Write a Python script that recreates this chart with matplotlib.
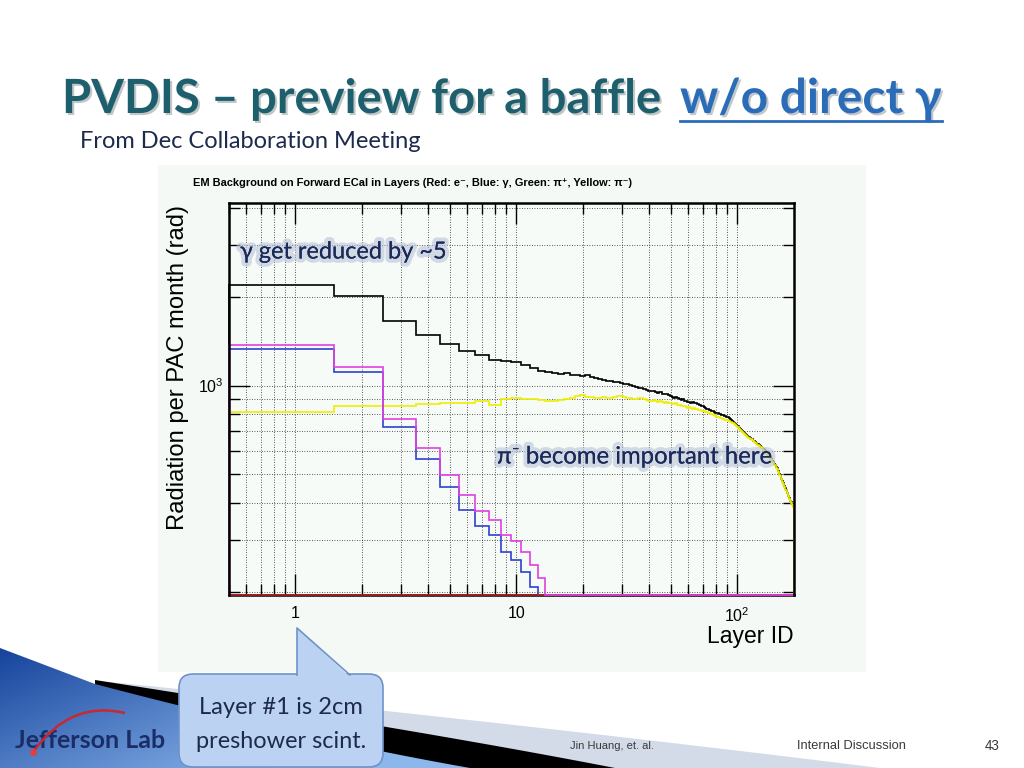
import numpy as np
import matplotlib
matplotlib.use("Agg")
import matplotlib.pyplot as plt
import matplotlib.patheffects as pe
from matplotlib.patches import Polygon, FancyBboxPatch, Rectangle, PathPatch
from matplotlib.path import Path
from matplotlib.ticker import FixedLocator, LogLocator, NullFormatter, FuncFormatter

plt.rcParams['mathtext.default'] = 'regular'

# layer bins (layer 1 .. 180)
layer_edges = np.arange(0.5, 181.0, 1.0)

# black: all
total = [2200, 2020, 1650, 1490, 1380, 1315, 1265, 1225, 1215, 1205,
         1170, 1145, 1125, 1115, 1105, 1098, 1100, 1085, 1090, 1080,
         1088, 1068, 1060, 1052, 1045, 1040, 1035, 1028, 1030, 1018,
         1015, 1010, 1002, 1000, 990, 985, 980, 975, 968, 958,
         955, 958, 950, 946, 950, 940, 935, 938, 928, 922,
         915, 910, 916, 905, 900, 896, 898, 890, 885, 882,
         880, 876, 882, 872, 870, 868, 866, 862, 855, 850,
         845, 838, 836, 832, 828, 825, 822, 818, 815, 810,
         808, 806, 803, 800, 798, 795, 792, 790, 787, 784,
         780, 776, 770, 765, 760, 754, 748, 742, 737, 732,
         727, 722, 717, 712, 707, 702, 697, 692, 687, 680,
         676, 673, 670, 667, 664, 661, 658, 655, 651, 647,
         644, 641, 638, 635, 632, 629, 626, 623, 620, 616,
         612, 608, 604, 600, 596, 592, 588, 584, 580, 576,
         572, 568, 564, 560, 555, 551, 547, 543, 539, 535,
         530, 525, 520, 514, 508, 502, 496, 490, 484, 478,
         473, 468, 463, 458, 453, 448, 443, 438, 433, 428,
         423, 419, 415, 411, 407, 403, 400, 397, 394, 391]

# yellow: pi-
pi_minus = [816, 850, 855, 866, 870, 872, 888, 858, 900, 905,
            898, 900, 895, 888, 890, 893, 898, 905, 920, 928,
            918, 912, 910, 908, 912, 905, 908, 915, 925, 922,
            912, 905, 905, 902, 900, 905, 910, 900, 895, 890,
            888, 892, 885, 880, 886, 878, 875, 880, 872, 870,
            869, 866, 870, 862, 860, 856, 852, 850, 846, 842,
            845, 840, 836, 838, 832, 830, 828, 825, 822, 820,
            818, 815, 816, 810, 806, 802, 800, 796, 792, 788,
            785, 782, 780, 778, 775, 772, 770, 766, 764, 762,
            760, 758, 755, 752, 748, 744, 740, 735, 730, 726,
            722, 718, 712, 708, 702, 698, 692, 688, 682, 676,
            672, 670, 666, 664, 660, 657, 654, 651, 648, 644,
            641, 637, 635, 631, 629, 625, 623, 619, 617, 612,
            609, 604, 601, 596, 593, 588, 585, 580, 577, 572,
            569, 564, 561, 556, 552, 547, 544, 539, 536, 531,
            527, 521, 518, 510, 506, 498, 494, 486, 482, 474,
            471, 464, 461, 454, 451, 444, 441, 434, 431, 424,
            421, 415, 413, 407, 405, 399, 398, 393, 392, 387]

# blue: gamma
gamma = [1335, 1113, 724, 566, 454, 380, 333, 311, 272, 257, 233, 208] + [0] * 168
# magenta
pi_plus = [1370, 1157, 773, 612, 496, 427, 377, 351, 311, 298, 272, 246, 223] + [0] * 167
# red: e-
electron = [0] * 180

y_lo, y_hi = 195, 4160

fig = plt.figure(figsize=(10.24, 7.68), dpi=100)
fig.patch.set_facecolor('white')
R = fig.canvas.get_renderer()


def fit(t, size, vertical=False):
    bb = t.get_window_extent(R)
    cur = bb.height if vertical else bb.width
    t.set_fontsize(t.get_fontsize() * size / cur)
    return t


def bezier(p0, p1, p2, n=40):
    t = np.linspace(0, 1, n)[:, None]
    return (1 - t) ** 2 * np.array(p0) + 2 * t * (1 - t) * np.array(p1) + t ** 2 * np.array(p2)


# background layer in pixel coords
bg = fig.add_axes([0, 0, 1, 1], zorder=0)
bg.axis('off')

bg.add_patch(Rectangle((158, 165), 708, 507, facecolor='#f4f9f5', edgecolor='none', zorder=1))

# bottom-left swoosh
light_top = bezier((110, 682), (560, 728), (880, 768))
bg.add_patch(Polygon(np.vstack([light_top, [(110, 768)]]), closed=True,
                     facecolor='#d3dbe8', edgecolor='none', zorder=2))
black_top = bezier((95, 680), (430, 732), (615, 768))
bg.add_patch(Polygon(np.vstack([black_top, [(95, 768)]]), closed=True,
                     facecolor='black', edgecolor='none', zorder=3))
blue_top = bezier((95, 684), (300, 738), (470, 768))
blue_shape = Polygon(np.vstack([[(0, 648)], blue_top, [(0, 768)]]), closed=True,
                     facecolor='none', edgecolor='none')
bg.add_patch(blue_shape)
gy = np.linspace(0, 1, 128)[:, None]
gx = np.linspace(0, 1, 480)[None, :]
mix = np.clip(0.8 * gx + 0.5 * gy, 0, 1)[..., None]
dark = np.array([0.07, 0.25, 0.60])
light = np.array([0.55, 0.72, 0.93])
img = dark * (1 - mix) + light * mix
im = bg.imshow(img, extent=(0, 480, 768, 640), aspect='auto', zorder=4)
im.set_clip_path(blue_shape)

# Jefferson Lab logo
logo = bg.text(15, 740, 'Jefferson Lab', fontsize=20, fontweight='bold',
               family=['Lato', 'DejaVu Sans'], color='#1b2d66', va='center', zorder=6)
fit(logo, 150)
arc = Path([(33, 752), (70, 700), (125, 713)], [Path.MOVETO, Path.CURVE3, Path.CURVE3])
bg.add_patch(PathPatch(arc, facecolor='none', edgecolor='#c8282e', lw=1.8, zorder=7))
bg.plot([33], [752], 'o', color='#e04040', ms=4, zorder=8)

# title
shadow = [pe.SimplePatchShadow(offset=(1.5, -1.5), alpha=0.25), pe.Normal()]
t1 = bg.text(62, 113, 'PVDIS \u2013 preview for a baffle', fontsize=34, fontweight='bold',
             family=['Lato', 'DejaVu Sans'], color='#1e5f6e', va='baseline', zorder=6,
             path_effects=shadow)
fit(t1, 600)
t2 = bg.text(680, 113, 'w/o direct \u03b3', fontsize=34, fontweight='bold',
             family=['Lato', 'DejaVu Sans'], color='#2b6cb8', va='baseline', zorder=6,
             path_effects=shadow)
fit(t2, 262)
bg.plot([680, 942], [121, 121], color='#2b6cb8', lw=2, zorder=6)

sub = bg.text(80, 141, 'From Dec Collaboration Meeting', fontsize=15,
              family=['Lato', 'DejaVu Sans'], color='#1c2a4c', va='center', zorder=6)
fit(sub, 342)

# histogram title
ht = bg.text(193, 183, 'EM Background on Forward ECal in Layers (Red: e\u207b, Blue: \u03b3, '
             'Green: \u03c0\u207a, Yellow: \u03c0\u207b)', fontsize=8, fontweight='bold',
             family=['Liberation Sans', 'DejaVu Sans'], color='black', va='center', zorder=6)
fit(ht, 440)

yl = bg.text(178, 367, 'Radiation per PAC month (rad)', fontsize=17, rotation=90,
             family=['Liberation Sans', 'DejaVu Sans'], ha='center', va='center', zorder=6)
fit(yl, 325, vertical=True)
xl = bg.text(794, 637, 'Layer ID', fontsize=16.5, family=['Liberation Sans', 'DejaVu Sans'],
             ha='right', va='center', zorder=6)

# footer
for txt, x0, w in [('Jin Huang, et. al.', 570, 84), ('Internal Discussion', 797, 110), ('43', 985, 15)]:
    f = bg.text(x0, 746, txt, fontsize=9, family=['Liberation Sans', 'DejaVu Sans'],
                color='#3a3a3a', va='center', zorder=6)
    fit(f, w)

bg.set_xlim(0, 1024)
bg.set_ylim(768, 0)

# main plot
ax = fig.add_axes([229 / 1024, 1 - 595 / 768, 565 / 1024, 392 / 768], zorder=2)
ax.set_facecolor('#f7fbf8')
ax.set_xscale('log')
ax.set_yscale('log')

series = [(total, 'black'), (pi_minus, '#eeee00'), (gamma, '#3040d0'),
          (electron, '#b02020'), (pi_plus, '#e040e0')]
for vals, col in series:
    v = np.clip(np.array(vals, dtype=float), y_lo, None)
    ax.stairs(v, layer_edges, baseline=y_lo, color=col, lw=1.2, zorder=3, clip_on=False)

ax.set_xlim(0.5, 181)
ax.set_ylim(y_lo, y_hi)

ax.xaxis.set_major_locator(FixedLocator([1, 10, 100]))
ax.xaxis.set_minor_locator(LogLocator(base=10, subs=np.arange(2, 10)))
ax.yaxis.set_major_locator(FixedLocator([1000]))
ax.yaxis.set_minor_locator(LogLocator(base=10, subs=np.arange(2, 10)))
xlab = {1: '1', 10: '10', 100: '$10^{2}$'}
ax.xaxis.set_major_formatter(FuncFormatter(lambda v, p: xlab.get(int(round(v)), '')))
ax.yaxis.set_major_formatter(FuncFormatter(lambda v, p: '$10^{3}$'))
ax.xaxis.set_minor_formatter(NullFormatter())
ax.yaxis.set_minor_formatter(NullFormatter())
ax.tick_params(which='both', direction='in', top=True, right=True, width=1.0,
               labelsize=11.5, labelfontfamily='Liberation Sans')
ax.tick_params(which='major', length=15)
ax.tick_params(which='minor', length=8)
ax.tick_params(axis='x', pad=8)
ax.tick_params(axis='y', pad=4)
ax.grid(which='both', linestyle=(0, (1, 2)), color='black', lw=0.6, alpha=0.85)
for side in ['left', 'right', 'top']:
    ax.spines[side].set_zorder(4)
for s in ax.spines.values():
    s.set_linewidth(1.8)
ax.spines['bottom'].set_zorder(2)

# overlay: annotations and callout
ov = fig.add_axes([0, 0, 1, 1], zorder=5)
ov.axis('off')
ov.patch.set_alpha(0)
glow = [pe.withStroke(linewidth=6, foreground='#b9c3d8', alpha=0.6), pe.Normal()]
a1 = ov.text(240, 252, '\u03b3 get reduced by ~5', fontsize=19, family=['Lato', 'DejaVu Sans'],
             color='#1c2a5a', va='center', path_effects=glow)
fit(a1, 207)
a2 = ov.text(497, 457, '\u03c0\u207b become important here', fontsize=19,
             family=['Lato', 'DejaVu Sans'], color='#1c2a5a', va='center', path_effects=glow)
fit(a2, 276)

box_fc = '#bcd2f3'
box_ec = '#6e93c8'
ov.add_patch(FancyBboxPatch((179, 674), 204, 93, boxstyle='round,pad=0,rounding_size=14',
                            facecolor=box_fc, edgecolor=box_ec, lw=1.2, zorder=2))
ov.add_patch(Polygon([(297, 677), (297, 628), (350, 677)], closed=True,
                     facecolor=box_fc, edgecolor='none', zorder=3))
ov.plot([297, 297, 350], [675, 628, 675], color=box_ec, lw=1.2, zorder=4)
c1 = ov.text(281, 708, 'Layer #1 is 2cm', fontsize=19, family=['Lato', 'DejaVu Sans'],
             color='#1d2b4a', ha='center', va='center', zorder=5)
fit(c1, 164)
c2 = ov.text(281, 742, 'preshower scint.', fontsize=19, family=['Lato', 'DejaVu Sans'],
             color='#1d2b4a', ha='center', va='center', zorder=5)
fit(c2, 171)
ov.set_xlim(0, 1024)
ov.set_ylim(768, 0)

fig.savefig('out.png', dpi=100, facecolor='white')
